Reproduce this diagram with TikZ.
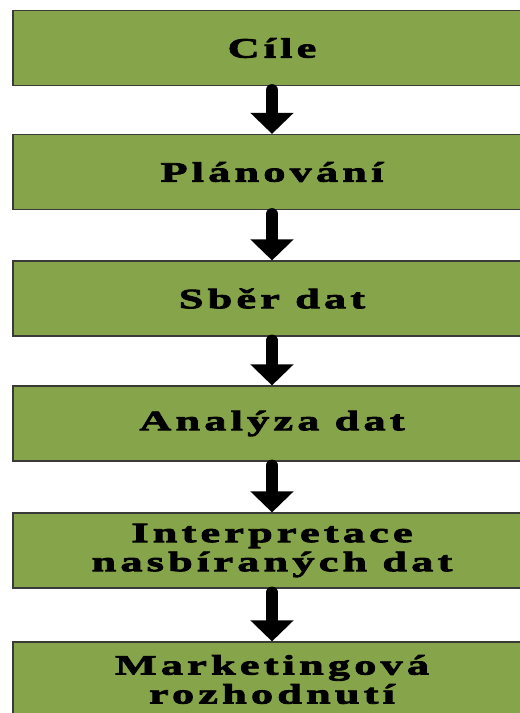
\documentclass[tikz,border=0pt]{standalone}
\usepackage{fontspec}
\usetikzlibrary{arrows.meta}
\newfontfamily\stepfont{Liberation Serif Bold}[FakeStretch=1.58,LetterSpace=15,FakeBold=3]
\definecolor{boxgreen}{HTML}{86A44A}
\definecolor{boxline}{HTML}{3A3A3A}
\begin{document}
\begin{tikzpicture}[x=1pt,y=1pt,
  stepbox/.style={draw=boxline, line width=1.2pt, fill=boxgreen,
    minimum width=518pt, minimum height=75pt, inner sep=0pt,
    align=center, font=\stepfont\fontsize{28}{29}\selectfont},
  flow/.style={line width=12pt, line cap=round, black,
    -{Triangle[width=42pt,length=21pt]}}]
\useasboundingbox (0,0) rectangle (520,-713);
\node[stepbox] (s1) at (272,-48)    {Cíle};
\node[stepbox] (s2) at (272,-172)   {Plánování};
\node[stepbox] (s3) at (272,-298.5) {Sběr dat};
\node[stepbox] (s4) at (272,-423.5) {Analýza dat};
\node[stepbox] (s5) at (272,-550.5) {Interpretace\\nasbíraných dat};
\node[stepbox] (s6) at (272,-679.5) {Marketingová\\rozhodnutí};
\foreach \a/\b in {s1/s2,s2/s3,s3/s4,s4/s5,s5/s6}
  \draw[flow] ([yshift=-4pt]\a.south) -- (\b.north);
\end{tikzpicture}
\end{document}
